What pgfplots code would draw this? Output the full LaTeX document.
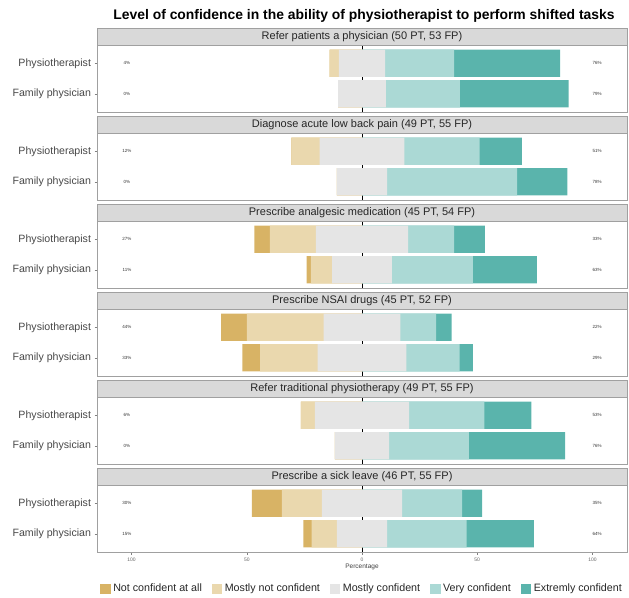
\documentclass[border=0pt]{standalone}
\usepackage{pgfplots}
\pgfplotsset{compat=1.18}
\usepackage{pgfplotstable}
\usepackage{fontspec}
\setmainfont{Liberation Sans}
\definecolor{cD}{HTML}{D8B365}
\definecolor{cT}{HTML}{EAD8AE}
\definecolor{cN}{HTML}{E5E5E5}
\definecolor{cV}{HTML}{ABD9D5}
\definecolor{cE}{HTML}{5AB4AC}
\definecolor{stripc}{HTML}{D9D9D9}
\definecolor{bordc}{HTML}{A0A0A0}

% columns: y, end of "not confident at all", end of "mostly not confident",
% half of "mostly confident", end of "very confident", end of "extremely confident"
\pgfplotstableread{
y dark tan half very ext
1 -14.00 -14.00 10.00 40.00 86.00
2 -10.38 -10.38 10.38 42.45 89.62
}\tabA
\pgfplotstableread{
y dark tan half very ext
1 -30.61 -30.61 18.37 51.02 69.39
2 -10.91 -10.91 10.91 67.27 89.09
}\tabB
\pgfplotstableread{
y dark tan half very ext
1 -46.67 -40.00 20.00 40.00 53.33
2 -24.07 -22.22 12.96 48.15 75.93
}\tabC
\pgfplotstableread{
y dark tan half very ext
1 -61.11 -50.00 16.67 32.22 38.89
2 -51.92 -44.23 19.23 42.31 48.08
}\tabD
\pgfplotstableread{
y dark tan half very ext
1 -26.53 -26.53 20.41 53.06 73.47
2 -11.82 -11.82 11.82 46.36 88.18
}\tabE
\pgfplotstableread{
y dark tan half very ext
1 -47.83 -34.78 17.39 43.48 52.17
2 -25.45 -21.82 10.91 45.45 74.55
}\tabF

\pgfplotsset{
 facet/.style={scale only axis, width=530pt, height=67pt,
   xmin=-115, xmax=115, ymin=0.4, ymax=2.6, y dir=reverse,
   ytick={1,2}, yticklabels={Physiotherapist,Family physician}, ytick pos=left,
   xtick=\empty, tick align=outside, major tick length=2.5pt,
   tick style={black!50, line width=0.4pt},
   axis line style={bordc, line width=0.6pt},
   yticklabel style={font=\fontsize{10.6}{12}\selectfont, text=black!72},
   clip=false, /pgf/number format/assume math mode=true},
 bars/.style={xbar, bar width=0.9, bar shift=0pt, draw=none, forget plot},
 pct/.style={only marks, mark=none, forget plot, point meta=explicit symbolic,
   nodes near coords,
   every node near coord/.append style={anchor=center, font=\fontsize{4.5}{5}\selectfont, text=black!80}},
 sq/.style={legend image code/.code={\fill[#1] (0pt,-4.5pt) rectangle (9.5pt,4.5pt);}},
}

\newcommand{\facet}[9]{%
\begin{axis}[facet, at={(97pt,{-45pt-#1*88pt})}, anchor=north west, #2]
 \addplot[black, line width=0.7pt, forget plot] coordinates {(0,0.4) (0,2.6)};
 \addplot[bars, fill=cE] table[x=ext,y=y]{#4};
 \addplot[bars, fill=cV] table[x=very,y=y]{#4};
 \addplot[bars, fill=cD] table[x=dark,y=y]{#4};
 \addplot[bars, fill=cT] table[x=tan,y=y]{#4};
 \addplot[bars, fill=cN] table[x=half,y=y]{#4};
 \addplot[bars, fill=cN] table[x expr=-\thisrow{half},y=y]{#4};
 \addplot[pct] coordinates {(-102,1)[#5] (-102,2)[#6] (102,1)[#7] (102,2)[#8]};
 \draw[fill=stripc, draw=bordc, line width=0.6pt] (axis description cs:0,1) rectangle ([yshift=17pt]axis description cs:1,1);
 \node[font=\fontsize{11}{13}\selectfont, text=black!85] at ([yshift=8.5pt]axis description cs:0.5,1) {#3};
 #9
\end{axis}}

\begin{document}
\begin{tikzpicture}
\path[use as bounding box] (0,0) rectangle (629pt,-597pt);
\node[font=\bfseries\fontsize{13.9}{16}\selectfont] at (364pt,-16pt) {Level of confidence in the ability of physiotherapist to perform shifted tasks};
\facet{0}{}{Refer patients a physician (50 PT, 53 FP)}{\tabA}{4\%}{0\%}{76\%}{79\%}{}
\facet{1}{}{Diagnose acute low back pain (49 PT, 55 FP)}{\tabB}{12\%}{0\%}{51\%}{78\%}{}
\facet{2}{}{Prescribe analgesic medication (45 PT, 54 FP)}{\tabC}{27\%}{11\%}{33\%}{63\%}{}
\facet{3}{}{Prescribe NSAI drugs (45 PT, 52 FP)}{\tabD}{44\%}{33\%}{22\%}{29\%}{}
\facet{4}{}{Refer traditional physiotherapy (49 PT, 55 FP)}{\tabE}{6\%}{0\%}{53\%}{76\%}{}
\facet{5}{xtick={-100,-50,0,50,100}, xticklabels={100,50,0,50,100}, xtick pos=bottom,
  xticklabel style={font=\fontsize{5}{6}\selectfont, text=black!60},
  xlabel={Percentage}, xlabel style={font=\fontsize{6.5}{8}\selectfont, text=black!75, yshift=4pt},
  legend columns=-1,
  legend style={at={(axis description cs:1.0,0)}, anchor=north east, yshift=-28pt, draw=none, fill=none,
    font=\fontsize{10.7}{12}\selectfont, text=black!85,
    /tikz/every odd column/.append style={column sep=1pt},
    /tikz/every even column/.append style={column sep=8pt}}}
 {Prescribe a sick leave (46 PT, 55 FP)}{\tabF}{30\%}{15\%}{35\%}{64\%}
 {\addlegendimage{sq=cD}
  \addlegendentry{Not confident at all}
  \addlegendimage{sq=cT}
  \addlegendentry{Mostly not confident}
  \addlegendimage{sq=cN}
  \addlegendentry{Mostly confident}
  \addlegendimage{sq=cV}
  \addlegendentry{Very confident}
  \addlegendimage{sq=cE}
  \addlegendentry{Extremly confident}}
\end{tikzpicture}
\end{document}
